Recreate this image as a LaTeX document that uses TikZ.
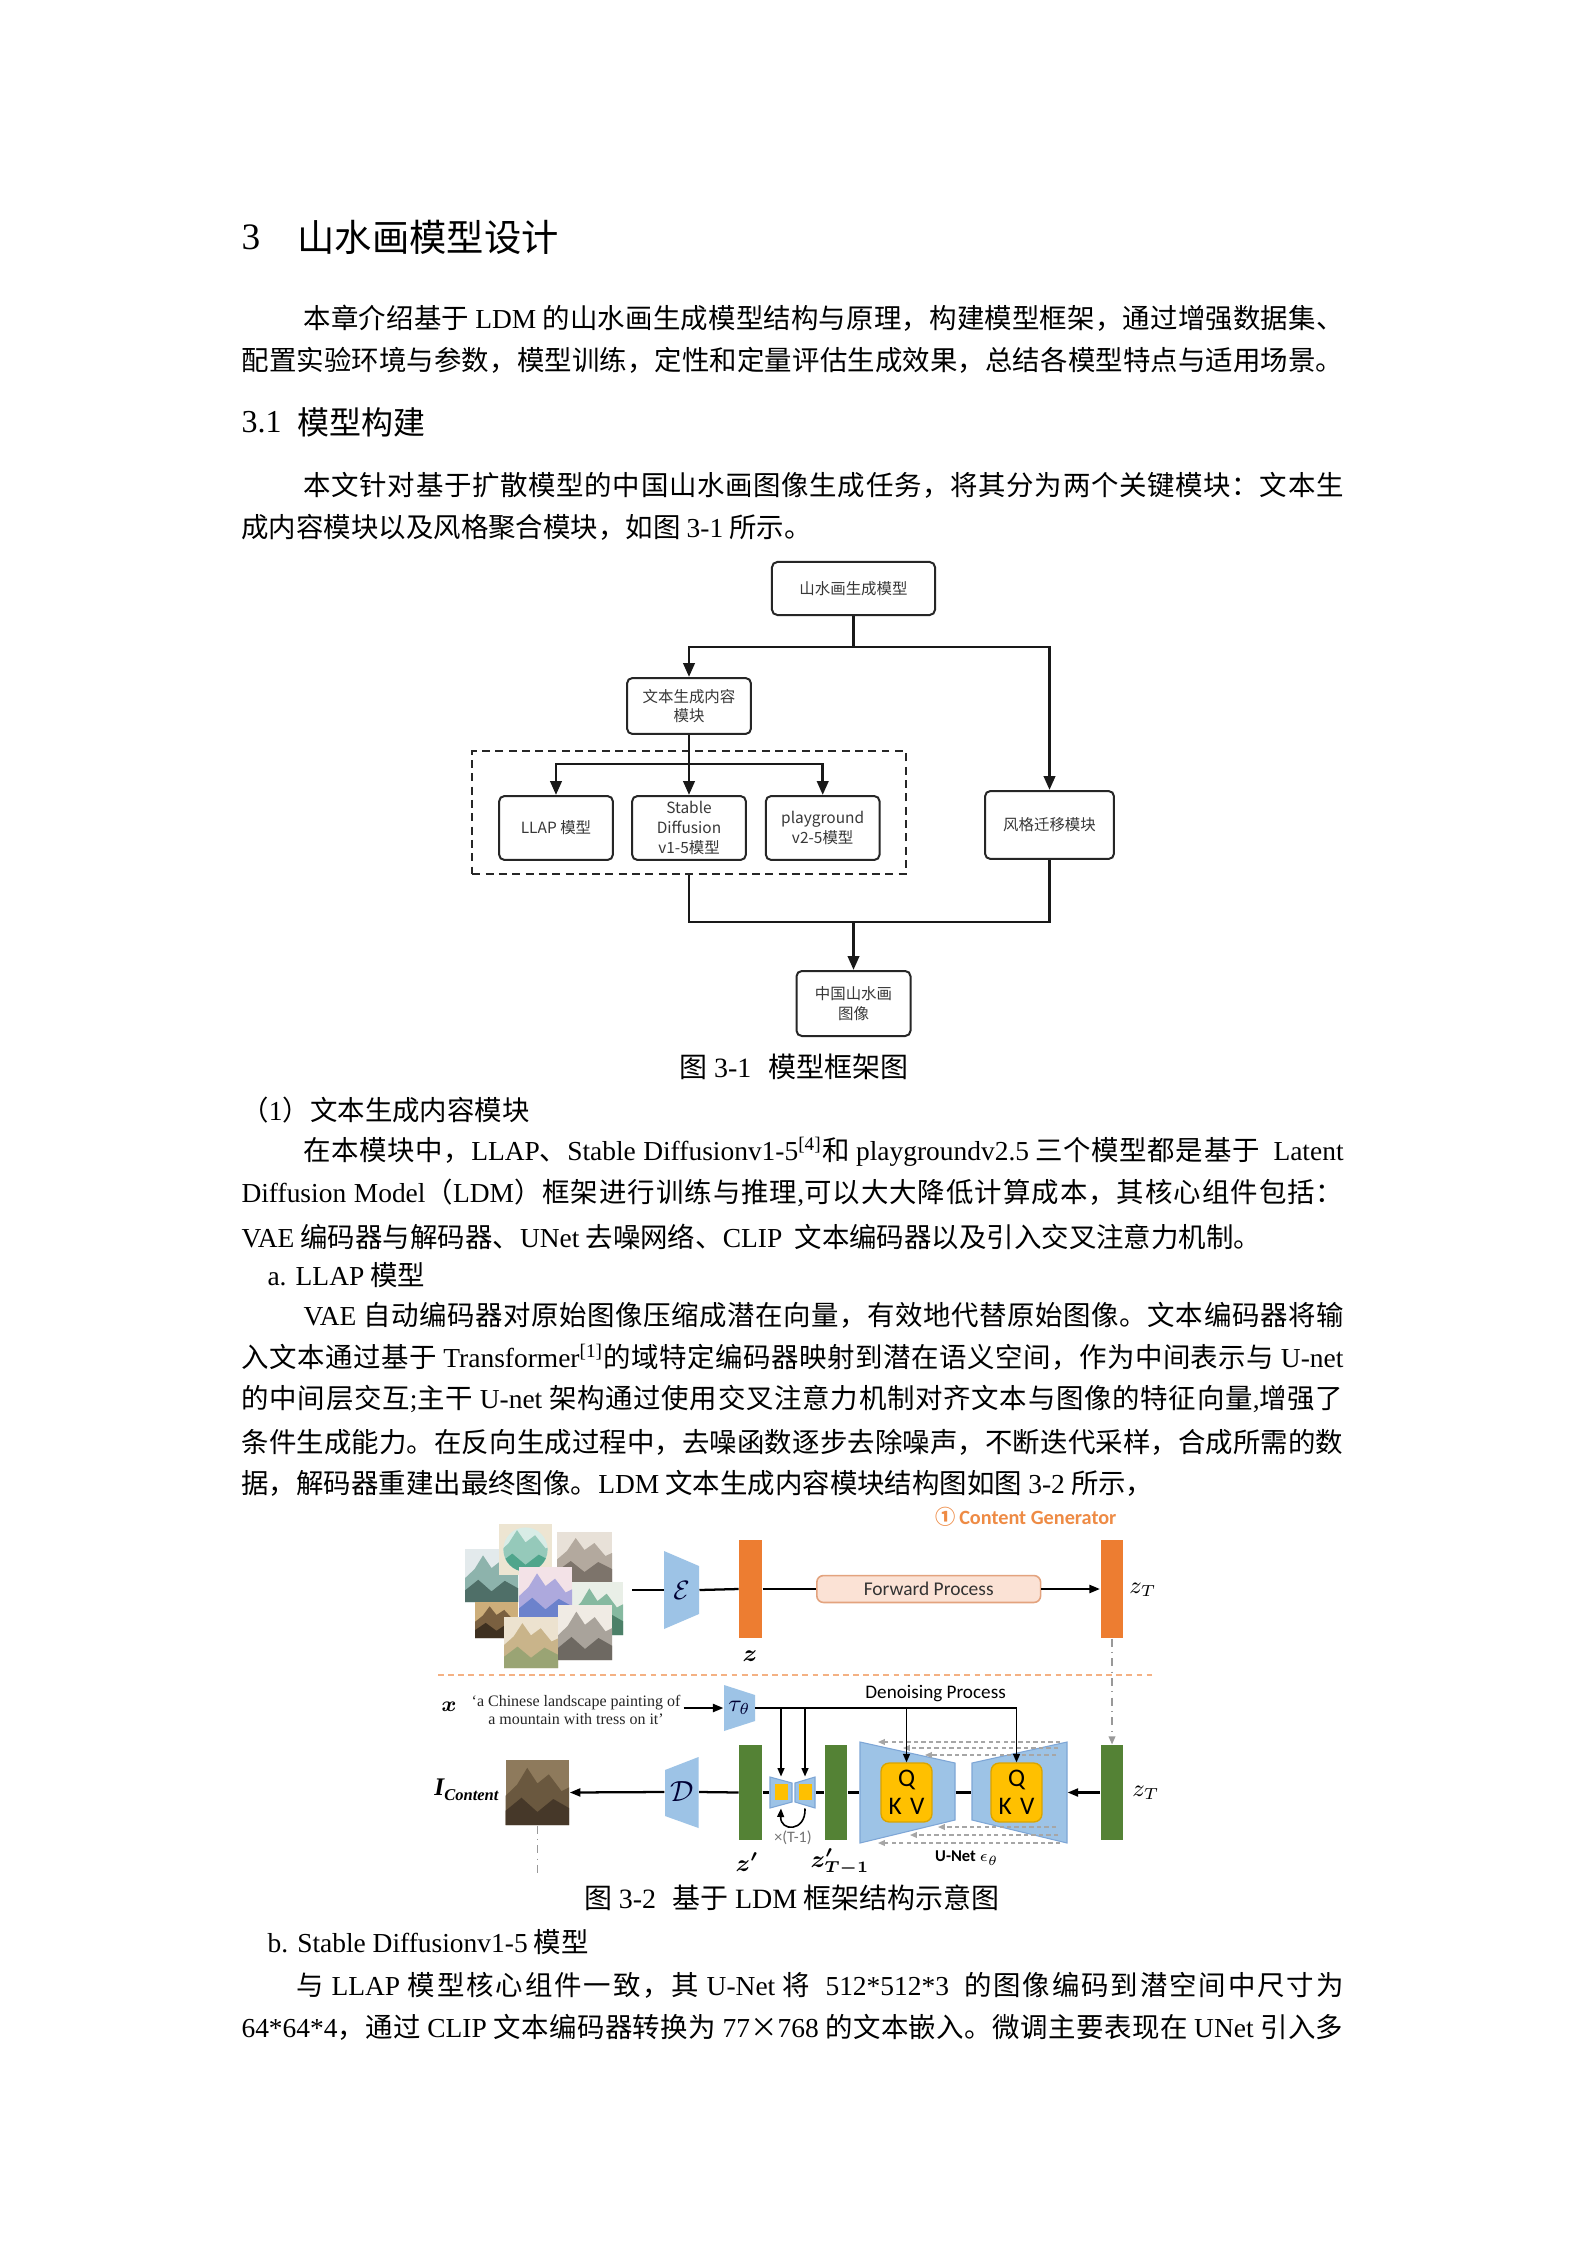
\documentclass[tikz,border=0pt]{standalone}
\usepackage{fontspec}
\usepackage{amsmath,bm}
\setmainfont{Liberation Serif}
\newfontfamily\cjk{Noto Sans CJK SC}
\newfontfamily\carl{Carlito}
\usetikzlibrary{arrows.meta,calc}
\makeatletter
\count@="3000 \loop\XeTeXcharclass\count@=10 \advance\count@ 1 \ifnum\count@<"3040 \repeat
\count@="4E00 \loop\XeTeXcharclass\count@=10 \advance\count@ 1 \ifnum\count@<"A000 \repeat
\count@="FF00 \loop\XeTeXcharclass\count@=10 \advance\count@ 1 \ifnum\count@<"FF60 \repeat
\makeatother
\XeTeXinterchartoks 10 10 = {\hskip 0pt plus 1.5pt minus 0.35pt\relax}
\XeTeXinterchartokenstate=1
\newcommand\bodyf{\fontsize{10.3}{12}\selectfont\cjk}
\newcommand\lt[1]{{\rmfamily #1}}
\newcommand\figf{\fontsize{5.8}{7.4}\selectfont\cjk}
\definecolor{orz}{HTML}{ED7D31}
\definecolor{grz}{HTML}{548235}
\definecolor{bluz}{HTML}{9DC3E6}
\definecolor{bluzd}{HTML}{7EA6D6}
\definecolor{yelz}{HTML}{FFC000}
\definecolor{yelzd}{HTML}{D9A400}
\definecolor{fwdf}{HTML}{FBE2D5}
\definecolor{fwdd}{HTML}{E3A37E}
\definecolor{sepc}{HTML}{F4B183}
\definecolor{cgen}{HTML}{EE8B45}
\definecolor{pa1}{HTML}{E3EAEC}\definecolor{pa2}{HTML}{8DB3AC}\definecolor{pa3}{HTML}{4F6F68}
\definecolor{pb1}{HTML}{EDE5D2}\definecolor{pb2}{HTML}{D8ECE6}\definecolor{pb3}{HTML}{4FA58C}
\definecolor{pc1}{HTML}{E8E1D8}\definecolor{pc2}{HTML}{B3A99E}\definecolor{pc3}{HTML}{7D746B}
\definecolor{pd1}{HTML}{F3E2E7}\definecolor{pd2}{HTML}{ADA9DD}\definecolor{pd3}{HTML}{6C82CC}
\definecolor{pe1}{HTML}{E9EFE7}\definecolor{pe2}{HTML}{86B9A0}\definecolor{pe3}{HTML}{4C8068}
\definecolor{pf1}{HTML}{CDAE7A}\definecolor{pf2}{HTML}{7A6040}\definecolor{pf3}{HTML}{3E3020}
\definecolor{pg1}{HTML}{ECE2CF}\definecolor{pg2}{HTML}{C9B48A}\definecolor{pg3}{HTML}{9AA474}
\definecolor{ph1}{HTML}{F0EBE4}\definecolor{ph2}{HTML}{A9A39B}\definecolor{ph3}{HTML}{6E6962}
\definecolor{po1}{HTML}{8E7A5C}\definecolor{po2}{HTML}{6A583F}\definecolor{po3}{HTML}{463829}
\newcommand\paint[7]{%
\begin{scope}[shift={(#1,#2)}]
\fill[#5] (0,0) rectangle (#3,#4);
\fill[#6] (0,#4) -- (0,{0.55*#4}) -- ({0.18*#3},{0.38*#4}) -- ({0.34*#3},{0.12*#4}) -- ({0.5*#3},{0.36*#4}) -- ({0.68*#3},{0.22*#4}) -- ({0.88*#3},{0.48*#4}) -- (#3,{0.42*#4}) -- (#3,#4) -- cycle;
\fill[#7] (0,#4) -- (0,{0.78*#4}) -- ({0.25*#3},{0.58*#4}) -- ({0.5*#3},{0.8*#4}) -- ({0.75*#3},{0.6*#4}) -- (#3,{0.74*#4}) -- (#3,#4) -- cycle;
\end{scope}}
\begin{document}
\begin{tikzpicture}[x=0.37535pt,y=-0.37535pt,
  bl/.style={anchor=west,inner sep=0pt,font=\bodyf},
  fb/.style={draw=black!85,line width=0.75pt,rounded corners=2pt,fill=white,font=\figf,text=black!78,align=center,inner sep=0pt},
  cn/.style={line width=1.1pt,black!90},
  ar/.style={cn,-{Triangle[length=5.2pt,width=4.2pt]}},
  l2/.style={line width=0.85pt,black},
  a2/.style={l2,-{Triangle[length=4pt,width=3pt]}},
  a3/.style={line width=0.6pt,black,-{Triangle[length=3.2pt,width=2.6pt]}},
  obar/.style={fill=orz,inner sep=0pt,minimum width=8.6pt,minimum height=36.8pt},
  gbar/.style={fill=grz,inner sep=0pt,minimum width=8.6pt,minimum height=35.7pt},
  trap/.style={fill=bluz,draw=bluzd,line width=0.4pt},
  qb/.style={fill=yelz,draw=yelzd,line width=0.5pt,rounded corners=3pt,minimum width=19.1pt,minimum height=22.1pt,inner sep=0pt,align=center,font=\carl\fontsize{9.5}{10.5}\selectfont},
  sk/.style={draw=black!35,dash pattern=on 1.6pt off 1.2pt,line width=0.45pt,-{Triangle[length=2.6pt,width=2.2pt,fill=black!35]}},
  lab/.style={inner sep=0pt,font=\fontsize{9}{10}\selectfont}]
\fill[white] (0,0) rectangle (1586,2245);
\path[use as bounding box] (0,0) rectangle (1586,2245);

% ---------------- text ----------------
\node[bl,font=\fontsize{14}{16}\selectfont\rmfamily] (t3) at (241,237) {3};
\node[bl,font=\fontsize{14}{16}\selectfont\cjk] (title) at (297,237) {山水画模型设计};
\node[bl] (p1a) at (303,318) {\makebox[390.4pt][s]{本章介绍基于 \lt{LDM} 的山水画生成模型结构与原理，构建模型框架，通过增强数据集、}};
\node[bl] (p1b) at (241,360) {\makebox[413.6pt][s]{配置实验环境与参数，模型训练，定性和定量评估生成效果，总结各模型特点与适用场景。}};
\node[bl,font=\fontsize{12}{14}\selectfont\rmfamily] (h31n) at (241,422) {3.1};
\node[bl,font=\fontsize{12}{14}\selectfont\cjk] (h31) at (297,422) {模型构建};
\node[bl] (p2a) at (303,485) {\makebox[390.4pt][s]{本文针对基于扩散模型的中国山水画图像生成任务，将其分为两个关键模块：文本生}};
\node[bl] (p2b) at (241,527) {成内容模块以及风格聚合模块，如图 \lt{3-1} 所示。};
\node[inner sep=0pt,font=\fontsize{10.5}{12}\selectfont\cjk] (cap1) at (794,1067) {图 \lt{3-1}\hspace{0.6em}模型框架图};
\node[bl] (s1) at (241,1110) {（\lt{1}）文本生成内容模块};
\node[bl] (p3a) at (303,1152) {\makebox[390.4pt][s]{在本模块中，\lt{LLAP}、\lt{Stable Diffusionv1-5\textsuperscript{[4]}}和 \lt{playgroundv2.5} 三个模型都是基于 \lt{ Latent}}};
\node[bl] (p3b) at (241,1193) {\makebox[413.6pt][s]{\lt{Diffusion Model}（\lt{LDM}）框架进行训练与推理\lt{,}可以大大降低计算成本，其核心组件包括：}};
\node[bl] (p3c) at (241,1237) {\lt{VAE} 编码器与解码器、\lt{UNet} 去噪网络、\lt{CLIP}\ \ 文本编码器以及引入交叉注意力机制。};
\node[bl] (la) at (267,1275) {\lt{a. LLAP} 模型};
\node[bl] (p4a) at (303,1315) {\makebox[390.4pt][s]{\lt{VAE} 自动编码器对原始图像压缩成潜在向量，有效地代替原始图像。文本编码器将输}};
\node[bl] (p4b) at (241,1357) {\makebox[413.6pt][s]{入文本通过基于 \lt{Transformer\textsuperscript{[1]}}的域特定编码器映射到潜在语义空间，作为中间表示与 \lt{U-net}}};
\node[bl] (p4c) at (241,1399) {\makebox[413.6pt][s]{的中间层交互\lt{;}主干 \lt{U-net} 架构通过使用交叉注意力机制对齐文本与图像的特征向量\lt{,}增强了}};
\node[bl] (p4d) at (241,1442) {\makebox[413.6pt][s]{条件生成能力。在反向生成过程中，去噪函数逐步去除噪声，不断迭代采样，合成所需的数}};
\node[bl] (p4e) at (241,1483) {据，解码器重建出最终图像。\lt{LDM} 文本生成内容模块结构图如图 \lt{3-2} 所示，};
\node[inner sep=0pt,font=\fontsize{10.5}{12}\selectfont\cjk] (cap2) at (792,1898) {图 \lt{3-2}\hspace{0.6em}基于 \lt{LDM} 框架结构示意图};
\node[bl] (lb) at (267,1942) {\lt{b. Stable Diffusionv1-5} 模型};
\node[bl] (p5a) at (296,1985) {\makebox[393pt][s]{与 \lt{LLAP} 模型核心组件一致，其 \lt{U-Net} 将\ \ \lt{512*512*3}\ \ 的图像编码到潜空间中尺寸为}};
\node[bl] (p5b) at (241,2027) {\makebox[413.6pt][s]{\lt{64*64*4}，通过 \lt{CLIP} 文本编码器转换为 \lt{77}×\lt{768} 的文本嵌入。微调主要表现在 \lt{UNet} 引入多}};

% ---------------- figure 3-1 ----------------
\node[fb,minimum width=61.2pt,minimum height=19.9pt] (top) at (853.5,588.5) {山水画生成模型};
\node[fb,minimum width=46.5pt,minimum height=21pt] (wb) at (689,706) {文本生成内容\\模块};
\node[fb,minimum width=48.4pt,minimum height=25.5pt] (fg) at (1049.5,825) {风格迁移模块};
\node[draw=black!85,line width=0.9pt,dash pattern=on 3pt off 2pt,minimum width=162.7pt,minimum height=46.2pt,inner sep=0pt] (dash) at (689,812.5) {};
\node[fb,minimum width=42.7pt,minimum height=24pt] (llap) at (556,828) {LLAP 模型};
\node[fb,minimum width=42.7pt,minimum height=24pt] (sd) at (689,828) {Stable\\Diffusion\\v1-5模型};
\node[fb,minimum width=42.7pt,minimum height=24pt] (pg) at (822.7,828) {playground\\v2-5模型};
\node[fb,minimum width=42.8pt,minimum height=24.4pt] (zg) at (853.5,1003.5) {中国山水画\\图像};
\coordinate (ja) at (853.5,647);
\draw[cn] (top.south) -- (ja);
\draw[ar] (ja) -| (wb.north);
\draw[ar] (ja) -| (fg.north);
\coordinate (jb) at (689,764);
\draw[cn] (wb.south) -- (jb);
\draw[ar] (jb) -| (llap.north);
\draw[ar] (jb) -| (pg.north);
\draw[ar] (jb) -- (sd.north);
\coordinate (jc) at (853.5,922);
\draw[cn] (dash.south) |- (jc) -| (fg.south);
\draw[ar] (jc) -- (zg.north);

% ---------------- figure 3-2 ----------------
\node[inner sep=0pt,font=\carl\bfseries\fontsize{7.6}{9}\selectfont,text=cgen] (cg) at (1026,1517) {{\cjk ①}\,Content Generator};
% collage
\paint{465}{1549}{53}{53}{pa1}{pa2}{pa3}
\fill[pb1] (499,1524) rectangle (552,1575);
\begin{scope}
\clip (525.5,1549.5) circle[radius=8.3pt];
\paint{499}{1524}{53}{51}{pb2}{pb3!60}{pb3}
\end{scope}
\paint{557}{1532}{55}{50}{pc1}{pc2}{pc3}
\paint{475}{1602}{43}{36}{pf1}{pf2}{pf3}
\paint{572}{1582}{51}{53}{pe1}{pe2}{pe3}
\paint{519}{1567}{53}{53}{pd1}{pd2}{pd3}
\paint{504}{1617}{54}{51}{pg1}{pg2}{pg3}
\paint{558}{1605}{54}{55}{ph1}{ph2}{ph3}
\coordinate (coll) at (632,1590);
% encoder
\fill[bluz] (664,1551) -- (699,1566) -- (699,1614) -- (664,1629) -- cycle;
\node[inner sep=0pt,minimum width=13.1pt,minimum height=22pt,font=\fontsize{10}{11}\selectfont,text=black!80!blue] (enc) at (681.5,1590) {$\mathcal{E}$};
\node[obar] (z) at (750.6,1589) {};
\node[obar] (zT) at (1112,1589) {};
\node[fill=fwdf,draw=fwdd,line width=0.6pt,rounded corners=2.5pt,minimum width=84pt,minimum height=10.1pt,inner sep=0pt,font=\carl\fontsize{7.3}{8}\selectfont,text=black!80] (fp) at (928.7,1589) {Forward Process};
\draw[l2] (coll) -- (enc.west);
\draw[l2] (enc.east) -- (z.west);
\draw[l2] (z.east) -- (fp.west);
\draw[a2] (fp.east) -- (zT.west);
\node[lab] (lz) at (750,1656) {$\bm{z}$};
\node[lab] (lzT) at (1143,1590) {$z_T$};
% separator
\draw[sepc,line width=0.6pt,dash pattern=on 2.2pt off 1.6pt] (438,1675) -- (1152,1675);
% text condition
\node[lab,font=\fontsize{8}{9}\selectfont] (lx) at (449,1707) {$\bm{x}$};
\node[inner sep=1pt,align=center,font=\fontsize{6}{6.8}\selectfont,text=black!85] (prompt) at (576,1710) {`a Chinese landscape painting of\\a mountain with tress on it'};
\fill[bluz] (724,1685) -- (755,1695) -- (755,1721) -- (724,1731) -- cycle;
\node[inner sep=0pt,minimum width=11.6pt,minimum height=15pt,font=\fontsize{9}{10}\selectfont,text=black!80!blue] (tau) at (739.5,1708) {$\tau_\theta$};
\node[inner sep=0pt,font=\carl\fontsize{7.2}{8}\selectfont] (dp) at (935.6,1694) {Denoising Process};
\draw[a2] (prompt.east |- tau.west) -- (tau.west);
% bottom row
\node[inner sep=0pt,minimum width=23.9pt,minimum height=24.4pt] (img) at (537.4,1792.5) {};
\paint{505.6}{1760}{63.6}{65}{po1}{po2}{po3}
\node[anchor=east,inner sep=0pt,font=\fontsize{9.5}{10}\selectfont\bfseries\itshape] (lic) at (499,1790) {I\raisebox{-1.8pt}{\fontsize{6.2}{6.5}\selectfont Content}};
\fill[bluz] (665,1770) -- (698.5,1757) -- (698.5,1828) -- (665,1816) -- cycle;
\node[inner sep=0pt,minimum width=12.6pt,minimum height=22pt,font=\fontsize{11}{12}\selectfont,text=black!80!blue] (dec) at (681.7,1792) {$\mathcal{D}$};
\node[gbar] (zp) at (750.5,1792.5) {};
\node[gbar] (zt1) at (836,1792.5) {};
\node[gbar] (zTg) at (1112,1792.5) {};
% small blocks
\draw[trap] (770,1777) -- (792,1783) -- (792,1802) -- (770,1808) -- cycle;
\draw[trap] (795,1783) -- (815,1777) -- (815,1808) -- (795,1802) -- cycle;
\fill[yelz] (775,1784) rectangle (788,1800);
\fill[yelz] (799,1784) rectangle (812,1800);
\node[inner sep=0pt,minimum width=8.26pt,minimum height=11.6pt] (blkL) at (781,1792.5) {};
\node[inner sep=0pt,minimum width=7.5pt,minimum height=11.6pt] (blkR) at (805,1792.5) {};
% U-Net
\draw[trap] (860,1742) -- (955,1763) -- (955,1820) -- (860,1843) -- cycle;
\draw[trap] (972,1763) -- (1067,1742) -- (1067,1843) -- (972,1820) -- cycle;
\node[inner sep=0pt,minimum width=35.66pt,minimum height=37.9pt] (unL) at (907.5,1792.5) {};
\node[inner sep=0pt,minimum width=35.66pt,minimum height=37.9pt] (unR) at (1019.5,1792.5) {};
\node[qb] (qL) at (906.5,1792.5) {Q\\K\,\,V};
\node[qb] (qR) at (1016.5,1792.5) {Q\\K\,\,V};
\draw[sk] (1060,1742) -- (878,1742);
\draw[sk] (1058,1748) -- (903,1748);
\draw[sk] (1056,1755) -- (925,1755);
\draw[sk] (1056,1827) -- (938,1827);
\draw[sk] (1058,1835) -- (910,1835);
\draw[sk] (1060,1843) -- (878,1843);
% connectors bottom
\draw[a2] (dec.west) -- (img.east);
\draw[l2] (dec.east) -- (zp.west);
\draw[l2] (zp.east) -- (blkL.west);
\draw[l2] (blkR.east) -- (zt1.west);
\draw[l2] (zt1.east) -- (unL.west);
\draw[l2] (unL.east) -- (unR.west);
\draw[a2] (zTg.west) -- (unR.east);
\draw[a3] (tau.east) -| (qR.north);
\draw[a3] (tau.east -| blkL.north) -- (blkL.north);
\draw[a3] (tau.east -| blkR.north) -- (blkR.north);
\draw[a3] (tau.east -| qL.north) -- (qL.north);
\draw[a3] (blkR.south) .. controls (806,1832) and (780,1832) .. (blkL.south);
\node[inner sep=0pt,font=\carl\fontsize{6}{6.5}\selectfont,text=black!55] (tm) at (793,1838) {×(T-1)};
\draw[black!40,dash dot,line width=0.5pt,-{Triangle[length=3pt,width=2.5pt]}] (zT.south) -- (zTg.north);
\draw[black!40,dash dot,line width=0.5pt] (img.south) -- ++(0,52);
\node[lab] (lzp) at (747,1862) {$\bm{z'}$};
\node[lab] (lzt1) at (840,1862) {$\bm{z'_{T-1}}$};
\node[lab] (lzT2) at (1146,1793) {$z_T$};
\node[inner sep=0pt,font=\carl\bfseries\fontsize{6.2}{7}\selectfont] (un) at (967,1858) {U-Net $\epsilon_\theta$};
\end{tikzpicture}
\end{document}
